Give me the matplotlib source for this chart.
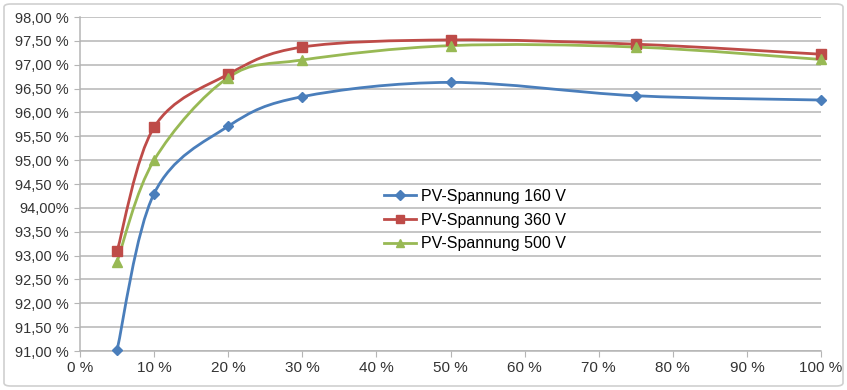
import numpy as np
import matplotlib.pyplot as plt
from matplotlib.path import Path
from matplotlib.patches import PathPatch, FancyBboxPatch
from matplotlib.lines import Line2D

plt.rcParams['font.family'] = ['Liberation Sans Narrow', 'Liberation Sans', 'DejaVu Sans']

# data
load_pct = [5, 10, 20, 30, 50, 75, 100]
eff_160 = [91.02, 94.30, 95.71, 96.33, 96.63, 96.35, 96.26]
eff_360 = [93.09, 95.69, 96.80, 97.37, 97.52, 97.43, 97.22]
eff_500 = [92.87, 95.00, 96.73, 97.10, 97.40, 97.37, 97.11]

series = [
    ("PV-Spannung 160 V", eff_160, "#4A7EBB", "D"),
    ("PV-Spannung 360 V", eff_360, "#BE4B48", "s"),
    ("PV-Spannung 500 V", eff_500, "#98B954", "^"),
]

y_ticks = [91.0, 91.5, 92.0, 92.5, 93.0, 93.5, 94.0, 94.5, 95.0, 95.5, 96.0, 96.5, 97.0, 97.5, 98.0]
y_labels = ["91,00 %", "91,50 %", "92,00 %", "92,50 %", "93,00 %", "93,50 %", "94,00%",
            "94,50 %", "95,00 %", "95,50 %", "96,00 %", "96,50 %", "97,00 %", "97,50 %", "98,00 %"]
x_ticks = [0, 10, 20, 30, 40, 50, 60, 70, 80, 90, 100]
x_labels = [f"{v} %" for v in x_ticks]


def smooth_path(ax, xs, ys):
    """Excel-like smoothed line: Catmull-Rom segments as cubic Beziers (in pixel space)."""
    pts = ax.transData.transform(np.column_stack([xs, ys]))
    n = len(pts)
    verts = [pts[0]]
    codes = [Path.MOVETO]
    for i in range(n - 1):
        p0 = pts[i - 1] if i > 0 else pts[i]
        p1 = pts[i]
        p2 = pts[i + 1]
        p3 = pts[i + 2] if i + 2 < n else pts[i + 1]
        c1 = p1 + (p2 - p0) / 6.0
        c2 = p2 - (p3 - p1) / 6.0
        verts += [c1, c2, p2]
        codes += [Path.CURVE4] * 3
    verts = ax.transData.inverted().transform(np.array(verts))
    return Path(verts, codes)


fig = plt.figure(figsize=(8.47, 3.90), dpi=100)
ax = fig.add_axes([80 / 847, 1 - 351 / 390, (821 - 80) / 847, (351 - 17) / 390])

border = FancyBboxPatch((4 / 847, 4 / 390), 839 / 847, 382 / 390,
                        boxstyle="round,pad=0,rounding_size=0.008",
                        transform=fig.transFigure, fill=False,
                        edgecolor="#d0d0d0", linewidth=1.2)
fig.patches.append(border)

ax.set_xlim(0, 100)
ax.set_ylim(91, 98)
ax.set_yticks(y_ticks)
ax.set_yticklabels(y_labels)
ax.set_xticks(x_ticks)
ax.set_xticklabels(x_labels)
ax.grid(axis="y", color="#b5b5b5", linewidth=1.1)
ax.set_axisbelow(True)
for s in ["top", "right"]:
    ax.spines[s].set_visible(False)
for s in ["left", "bottom"]:
    ax.spines[s].set_color("#b5b5b5")
    ax.spines[s].set_linewidth(1.1)
ax.tick_params(axis="y", length=4, color="#b5b5b5", labelsize=10.5, labelcolor="#333333", pad=4)
ax.tick_params(axis="x", length=4, color="#b5b5b5", labelsize=11, labelcolor="#333333", pad=3)

fig.canvas.draw()
handles = []
for label, vals, color, marker in series:
    path = smooth_path(ax, load_pct, vals)
    ax.add_patch(PathPatch(path, facecolor="none", edgecolor=color, linewidth=2.0, zorder=3))
    ax.plot(load_pct, vals, linestyle="none", marker=marker, color=color,
            markersize=7 if marker != "D" else 5.5, zorder=4, clip_on=False)
    handles.append(Line2D([], [], color=color, linewidth=2.0, marker=marker,
                          markersize=6 if marker != "D" else 5, label=label))

ax.legend(handles=handles, loc="center left", bbox_to_anchor=(0.41, 0.392),
          frameon=False, fontsize=11.5, handlelength=2.0, handletextpad=0.3,
          labelspacing=0.55, borderaxespad=0, borderpad=0)

fig.savefig("out.png", dpi=100)
